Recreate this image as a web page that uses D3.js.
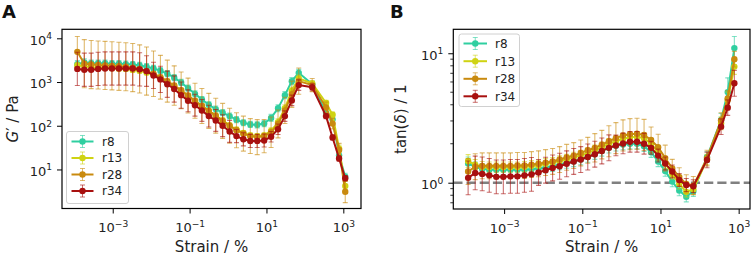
<!DOCTYPE html>
<html>
<head>
<meta charset="utf-8">
<script src="https://cdn.jsdelivr.net/npm/d3@7"></script>
<style>
  body { margin: 0; background: #fff; }
  svg { display: block; font-family: "DejaVu Sans", sans-serif; }
</style>
</head>
<body>
<div id="main"></div>
<script>
// strain amplitude, %
const strain = [1.20e-4, 1.82e-4, 2.75e-4, 4.17e-4, 6.31e-4, 9.55e-4, 1.45e-3, 2.19e-3, 3.31e-3, 5.01e-3,
  7.59e-3, 0.0115, 0.0174, 0.0263, 0.0398, 0.0603, 0.0912, 0.138, 0.209, 0.316,
  0.479, 0.724, 1.10, 1.66, 2.51, 3.80, 5.75, 8.71, 13.2, 20.0,
  30.2, 45.7, 69.2, 155, 355, 525, 776, 1122];

const names = ["r8", "r13", "r28", "r34"];
const colors = ["#2fcfa0", "#cfd312", "#c98a0e", "#a8100f"];

// storage modulus G' (Pa)
const gR8 = [2570, 2818, 2692, 2692, 2692, 2630, 2630, 2570, 2512, 2399, 2239, 2042, 1820, 1549, 1259, 977, 724, 537, 398, 302,
  240, 200, 166, 138, 117, 107, 105, 112, 151, 251, 501, 1047, 1622, 891, 200, 140, 21, 6.8];
const gR13 = [2399, 2291, 2188, 2138, 2138, 2089, 2042, 1995, 1905, 1820, 1660, 1479, 1259, 1023, 813, 631, 479, 363, 282, 219,
  170, 132, 102, 81, 68, 60, 58, 60, 76, 120, 251, 631, 1202, 933, 331, 178, 30, 4.2];
const gR28 = [4898, 2630, 2512, 2455, 2399, 2344, 2291, 2239, 2138, 1995, 1778, 1549, 1288, 1047, 832, 646, 490, 372, 282, 219,
  170, 129, 100, 79, 66, 58, 55, 58, 71, 110, 224, 525, 1047, 851, 263, 112, 28, 3.1];
const gR34 = [1995, 1905, 1905, 1995, 2040, 2040, 2040, 2040, 2040, 1950, 1780, 1415, 1148, 891, 692, 501, 372, 295, 224, 166,
  132, 100, 74, 58, 49, 45, 45, 46, 56, 83, 166, 380, 851, 759, 166, 54, 17.8, 6.3];

// error bars of G' in decades (log10 half width)
const gErrR8 = [0.08, 0.08, 0.07, 0.07, 0.07, 0.07, 0.07, 0.07, 0.07, 0.07, 0.07, 0.07, 0.07, 0.07, 0.07, 0.07, 0.07, 0.07, 0.07, 0.07,
  0.07, 0.07, 0.07, 0.07, 0.07, 0.07, 0.07, 0.07, 0.08, 0.08, 0.08, 0.08, 0.08, 0.07, 0.07, 0.07, 0.08, 0.08];
const gErrR13 = [0.06, 0.06, 0.06, 0.06, 0.06, 0.06, 0.06, 0.06, 0.06, 0.06, 0.06, 0.06, 0.06, 0.06, 0.06, 0.06, 0.06, 0.06, 0.06, 0.06,
  0.06, 0.06, 0.06, 0.06, 0.06, 0.06, 0.06, 0.06, 0.07, 0.08, 0.08, 0.08, 0.08, 0.06, 0.06, 0.06, 0.08, 0.1];
const gErrR28 = [0.35, 0.55, 0.55, 0.55, 0.55, 0.55, 0.55, 0.55, 0.55, 0.55, 0.55, 0.52, 0.5, 0.48, 0.45, 0.42, 0.4, 0.4, 0.4, 0.4,
  0.4, 0.4, 0.4, 0.4, 0.4, 0.4, 0.4, 0.38, 0.35, 0.32, 0.3, 0.3, 0.3, 0.15, 0.12, 0.12, 0.15, 0.25];
const gErrR34 = [0.38, 0.38, 0.38, 0.38, 0.38, 0.38, 0.38, 0.38, 0.38, 0.38, 0.35, 0.3, 0.3, 0.3, 0.3, 0.3, 0.25, 0.25, 0.25, 0.25,
  0.25, 0.25, 0.25, 0.15, 0.15, 0.15, 0.15, 0.15, 0.12, 0.12, 0.12, 0.12, 0.12, 0.08, 0.06, 0.06, 0.06, 0.06];

// loss factor tan(delta) (last strain point has none)
const tR8 = [1.41, 1.32, 1.28, 1.26, 1.26, 1.26, 1.26, 1.26, 1.26, 1.27, 1.29, 1.31, 1.34, 1.38, 1.42, 1.46, 1.51, 1.58, 1.66, 1.76,
  1.86, 1.93, 1.97, 2.00, 2.00, 1.91, 1.72, 1.46, 1.23, 1.02, 0.87, 0.78, 0.86, 1.58, 3.05, 5.01, 10.96];
const tR13 = [1.47, 1.38, 1.33, 1.32, 1.32, 1.32, 1.32, 1.32, 1.33, 1.35, 1.36, 1.40, 1.43, 1.47, 1.51, 1.57, 1.62, 1.70, 1.78, 1.88,
  2.00, 2.09, 2.19, 2.24, 2.26, 2.21, 2.00, 1.72, 1.41, 1.17, 0.98, 0.85, 0.89, 1.51, 2.88, 4.37, 7.89];
const tR28 = [1.22, 1.33, 1.35, 1.35, 1.35, 1.35, 1.35, 1.36, 1.36, 1.38, 1.40, 1.43, 1.46, 1.51, 1.57, 1.62, 1.70, 1.78, 1.86, 1.97,
  2.09, 2.21, 2.32, 2.37, 2.39, 2.34, 2.14, 1.88, 1.55, 1.29, 1.11, 0.98, 0.95, 1.55, 3.02, 4.47, 9.0];
const tR34 = [1.09, 1.19, 1.17, 1.14, 1.11, 1.11, 1.12, 1.12, 1.14, 1.16, 1.20, 1.25, 1.30, 1.34, 1.40, 1.46, 1.51, 1.58, 1.66, 1.76,
  1.86, 1.94, 2.01, 2.07, 2.07, 2.00, 1.86, 1.62, 1.41, 1.22, 1.05, 0.96, 0.94, 1.50, 2.71, 3.80, 5.86];

// error bars of tan(delta) in decades
const tErrR8 = [0.05, 0.04, 0.04, 0.04, 0.04, 0.04, 0.04, 0.04, 0.04, 0.04, 0.04, 0.04, 0.04, 0.04, 0.04, 0.04, 0.04, 0.04, 0.04, 0.04,
  0.04, 0.04, 0.04, 0.04, 0.04, 0.04, 0.04, 0.04, 0.04, 0.04, 0.04, 0.04, 0.04, 0.04, 0.05, 0.11, 0.09];
const tErrR13 = [0.05, 0.04, 0.04, 0.04, 0.04, 0.04, 0.04, 0.04, 0.04, 0.04, 0.04, 0.04, 0.04, 0.04, 0.04, 0.04, 0.04, 0.04, 0.04, 0.04,
  0.04, 0.04, 0.04, 0.04, 0.04, 0.04, 0.04, 0.04, 0.04, 0.04, 0.04, 0.04, 0.04, 0.04, 0.05, 0.06, 0.06];
const tErrR28 = [0.1, 0.1, 0.1, 0.1, 0.1, 0.1, 0.1, 0.1, 0.1, 0.1, 0.1, 0.1, 0.1, 0.1, 0.1, 0.1, 0.1, 0.1, 0.11, 0.11,
  0.12, 0.12, 0.12, 0.12, 0.12, 0.12, 0.1, 0.1, 0.1, 0.07, 0.07, 0.07, 0.07, 0.06, 0.06, 0.06, 0.06];
const tErrR34 = [0.13, 0.13, 0.13, 0.13, 0.13, 0.13, 0.13, 0.13, 0.13, 0.13, 0.1, 0.1, 0.1, 0.1, 0.1, 0.1, 0.1, 0.1, 0.1, 0.1,
  0.1, 0.08, 0.08, 0.08, 0.08, 0.08, 0.05, 0.05, 0.05, 0.05, 0.05, 0.05, 0.05, 0.06, 0.06, 0.06, 0.1];

const xTicks = [1e-3, 1e-1, 1e1, 1e3];
const gTicks = [1e1, 1e2, 1e3, 1e4];
const tTicks = [1e0, 1e1];
const tMinor = [0.7, 0.8, 0.9, 2, 3, 4, 5, 6, 7, 8, 9];

const ctx = { w: 754, h: 259 };

const svg = d3.select("#main").append("svg")
  .attr("width", ctx.w).attr("height", ctx.h);
svg.append("rect").attr("width", ctx.w).attr("height", ctx.h).attr("fill", "#fff");

function supLabel(sel, v, size) {
  const e = Math.round(Math.log10(v));
  sel.text(null);
  sel.append("tspan").text("10");
  sel.append("tspan")
    .attr("font-size", size * 0.7)
    .attr("dy", -size * 0.42)
    .text(e < 0 ? "\u2212" + (-e) : String(e));
}

function drawPanel(p) {
  const x = d3.scaleLog().domain(p.xDomain).range([p.left, p.right]);
  const y = d3.scaleLog().domain(p.yDomain).range([p.bottom, p.top]);
  const g = svg.append("g");
  const fs = 13;

  const clipId = "clip" + p.letter;
  g.append("clipPath").attr("id", clipId)
    .append("rect").attr("x", p.left).attr("y", p.top)
    .attr("width", p.right - p.left).attr("height", p.bottom - p.top);

  // x axis
  const xa = g.append("g").attr("transform", `translate(0,${p.bottom})`)
    .call(d3.axisBottom(x).tickValues(xTicks).tickSize(5).tickPadding(5).tickFormat(""));
  xa.select(".domain").remove();
  xa.selectAll("line").attr("stroke", "#000").attr("stroke-width", 1);
  xa.selectAll(".tick text").attr("font-size", fs).attr("fill", "#222")
    .attr("font-family", "DejaVu Sans").attr("dy", "1.05em")
    .each(function (d) { supLabel(d3.select(this), d, fs); });

  // y axis
  const ya = g.append("g").attr("transform", `translate(${p.left},0)`)
    .call(d3.axisLeft(y).tickValues(p.yTicks).tickSize(5).tickPadding(5).tickFormat(""));
  ya.select(".domain").remove();
  ya.selectAll("line").attr("stroke", "#000").attr("stroke-width", 1);
  ya.selectAll(".tick text").attr("font-size", fs).attr("fill", "#222")
    .attr("font-family", "DejaVu Sans").attr("dy", "0.45em")
    .each(function (d) { supLabel(d3.select(this), d, fs); });

  if (p.minor) {
    g.append("g").selectAll("line").data(p.minor.filter(v => v >= p.yDomain[0] && v <= p.yDomain[1]))
      .join("line")
      .attr("x1", p.left - 3).attr("x2", p.left)
      .attr("y1", d => y(d)).attr("y2", d => y(d))
      .attr("stroke", "#000").attr("stroke-width", 0.8);
  }

  // axis labels
  g.append("text")
    .attr("x", (p.left + p.right) / 2).attr("y", 252)
    .attr("text-anchor", "middle").attr("font-size", 15).attr("fill", "#222")
    .text("Strain / %");
  const yl = g.append("text")
    .attr("transform", `translate(${p.ylabelX},${(p.top + p.bottom) / 2}) rotate(-90)`)
    .attr("text-anchor", "middle").attr("font-size", 15).attr("fill", "#222");
  p.ylabel(yl);

  // panel letter
  svg.append("text").attr("x", p.letterX).attr("y", 18)
    .attr("font-size", 18).attr("font-weight", "bold").attr("fill", "#111")
    .text(p.letter);

  const plot = g.append("g").attr("clip-path", `url(#${clipId})`);

  if (p.refLine) {
    plot.append("line")
      .attr("x1", p.left).attr("x2", p.right)
      .attr("y1", y(p.refLine)).attr("y2", y(p.refLine))
      .attr("stroke", "#808080").attr("stroke-width", 2.5)
      .attr("stroke-dasharray", "9.2,4");
  }

  p.series.forEach((s, k) => {
    const pts = s.values.map((v, i) => ({ x: strain[i], v: v, e: s.errs[i] }));
    const sg = plot.append("g");
    const col = colors[k];
    const bars = sg.append("g").attr("stroke", col).attr("stroke-opacity", 0.6).attr("stroke-width", 1.1);
    bars.selectAll("line.v").data(pts).join("line").attr("class", "v")
      .attr("x1", d => x(d.x)).attr("x2", d => x(d.x))
      .attr("y1", d => y(d.v * Math.pow(10, d.e))).attr("y2", d => y(d.v / Math.pow(10, d.e)));
    bars.selectAll("line.t").data(pts).join("line").attr("class", "t")
      .attr("x1", d => x(d.x) - 2.5).attr("x2", d => x(d.x) + 2.5)
      .attr("y1", d => y(d.v * Math.pow(10, d.e))).attr("y2", d => y(d.v * Math.pow(10, d.e)));
    bars.selectAll("line.b").data(pts).join("line").attr("class", "b")
      .attr("x1", d => x(d.x) - 2.5).attr("x2", d => x(d.x) + 2.5)
      .attr("y1", d => y(d.v / Math.pow(10, d.e))).attr("y2", d => y(d.v / Math.pow(10, d.e)));
    sg.append("path").datum(pts)
      .attr("fill", "none").attr("stroke", col).attr("stroke-width", 2)
      .attr("d", d3.line().x(d => x(d.x)).y(d => y(d.v)));
    sg.selectAll("circle").data(pts).join("circle")
      .attr("cx", d => x(d.x)).attr("cy", d => y(d.v)).attr("r", 3.2)
      .attr("fill", col);
  });

  // frame
  g.append("rect").attr("x", p.left).attr("y", p.top)
    .attr("width", p.right - p.left).attr("height", p.bottom - p.top)
    .attr("fill", "none").attr("stroke", "#000").attr("stroke-width", 1.2);

  // legend
  const L = p.legend;
  const lg = g.append("g");
  lg.append("rect").attr("x", L.x).attr("y", L.y).attr("width", L.w).attr("height", L.h)
    .attr("rx", 2.5).attr("fill", "#fff").attr("fill-opacity", 0.8)
    .attr("stroke", "#d0d0d0").attr("stroke-width", 1);
  names.forEach((n, k) => {
    const ry = L.rowY[k];
    const cx = (L.x0 + L.x1) / 2;
    const row = lg.append("g");
    row.append("line").attr("x1", cx).attr("x2", cx).attr("y1", ry - 6).attr("y2", ry + 6)
      .attr("stroke", colors[k]).attr("stroke-opacity", 0.6);
    row.append("line").attr("x1", cx - 2.5).attr("x2", cx + 2.5).attr("y1", ry - 6).attr("y2", ry - 6)
      .attr("stroke", colors[k]).attr("stroke-opacity", 0.6);
    row.append("line").attr("x1", cx - 2.5).attr("x2", cx + 2.5).attr("y1", ry + 6).attr("y2", ry + 6)
      .attr("stroke", colors[k]).attr("stroke-opacity", 0.6);
    row.append("line").attr("x1", L.x0).attr("x2", L.x1).attr("y1", ry).attr("y2", ry)
      .attr("stroke", colors[k]).attr("stroke-width", 2);
    row.append("circle").attr("cx", cx).attr("cy", ry).attr("r", 3.2).attr("fill", colors[k]);
    row.append("text").attr("x", L.tx).attr("y", ry).attr("dy", "0.36em")
      .attr("font-size", 12).attr("fill", "#222").text(n);
  });
}

drawPanel({
  letter: "A", letterX: 2,
  left: 62, right: 361, top: 29.3, bottom: 208.5,
  xDomain: [Math.pow(10, -4.32), Math.pow(10, 3.46)],
  yDomain: [Math.pow(10, 0.107), Math.pow(10, 4.206)],
  yTicks: gTicks,
  ylabelX: 18,
  ylabel: t => {
    t.append("tspan").attr("font-style", "italic").text("G");
    t.append("tspan").text("\u2032 / Pa");
  },
  series: [
    { values: gR8, errs: gErrR8 },
    { values: gR13, errs: gErrR13 },
    { values: gR28, errs: gErrR28 },
    { values: gR34, errs: gErrR34 }
  ],
  legend: { x: 66.5, y: 131.5, w: 62, h: 72, rowY: [141.5, 158, 174.5, 191], x0: 71.5, x1: 93.5, tx: 102 }
});

drawPanel({
  letter: "B", letterX: 390,
  left: 453.3, right: 750, top: 29.3, bottom: 209,
  xDomain: [Math.pow(10, -4.30), Math.pow(10, 3.29)],
  yDomain: [Math.pow(10, -0.203), Math.pow(10, 1.185)],
  yTicks: tTicks,
  minor: tMinor,
  refLine: 1,
  ylabelX: 406,
  ylabel: t => {
    t.append("tspan").text("tan(");
    t.append("tspan").attr("font-style", "italic").text("\u03b4");
    t.append("tspan").text(") / 1");
  },
  series: [
    { values: tR8, errs: tErrR8 },
    { values: tR13, errs: tErrR13 },
    { values: tR28, errs: tErrR28 },
    { values: tR34, errs: tErrR34 }
  ],
  legend: { x: 459, y: 34, w: 60.5, h: 72.5, rowY: [43.5, 61.2, 78.8, 96.3], x0: 463.5, x1: 487, tx: 495 }
});
</script>
</body>
</html>
